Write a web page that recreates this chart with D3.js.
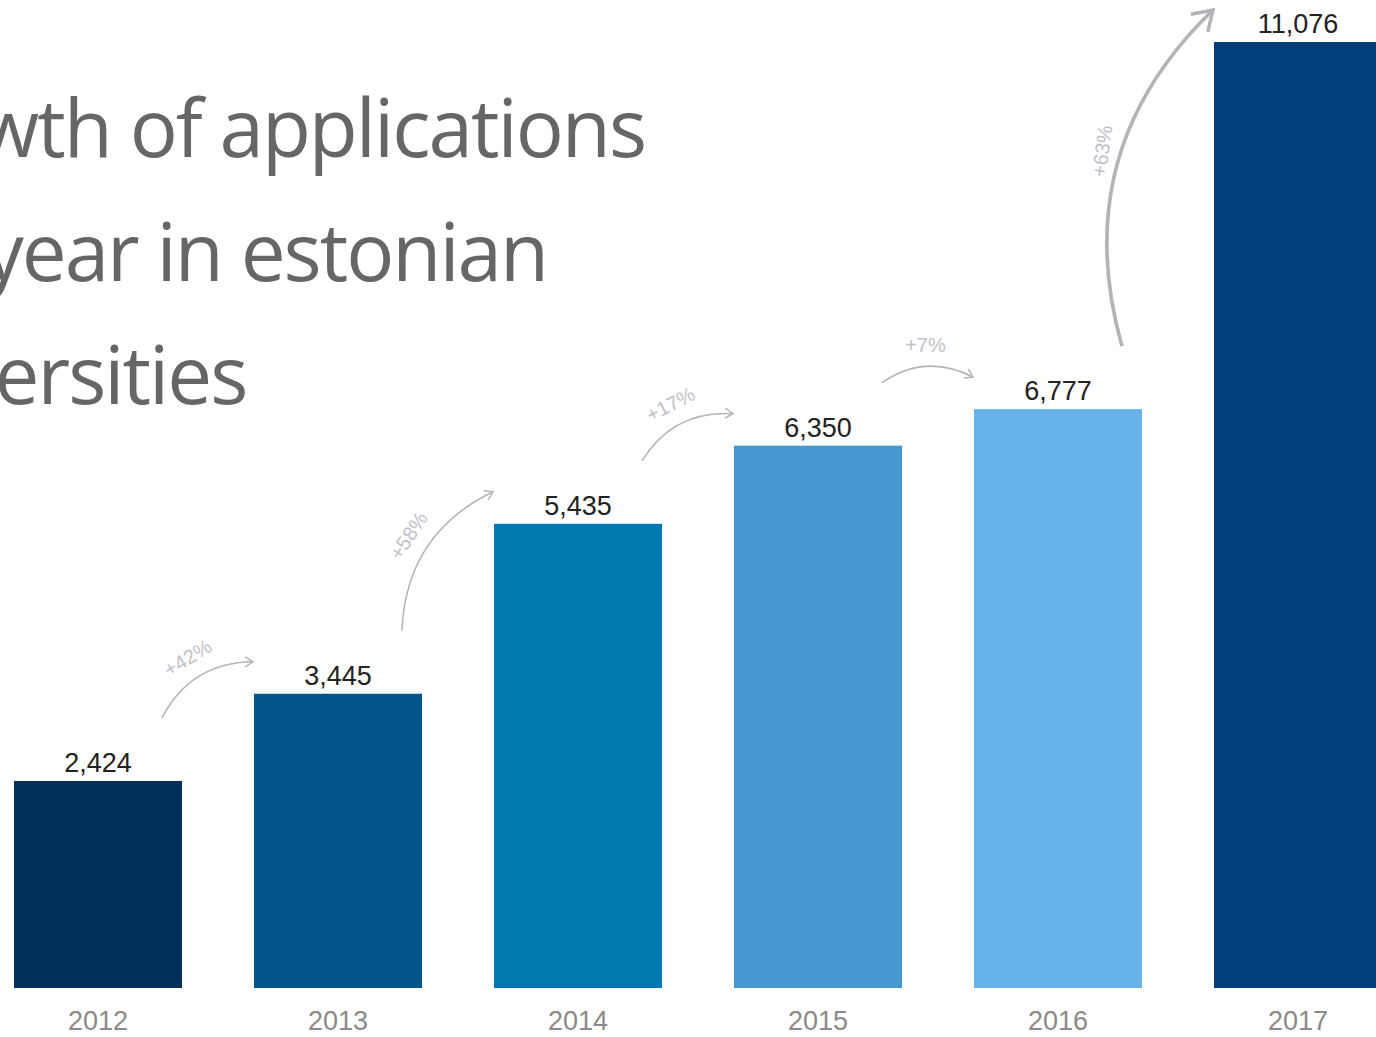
<!DOCTYPE html>
<html>
<head>
<meta charset="utf-8">
<script src="https://cdn.jsdelivr.net/npm/d3@7"></script>
<style>
  body { margin: 0; background: #fff; overflow: hidden; }
</style>
</head>
<body>
<div id="chart"></div>
<script>
// data
var years = ["2012", "2013", "2014", "2015", "2016", "2017"];
var applications = [2424, 3445, 5435, 6350, 6777, 11076];
var valueLabels = ["2,424", "3,445", "5,435", "6,350", "6,777", "11,076"];
var growthLabels = ["+42%", "+58%", "+17%", "+7%", "+63%"];
var barColors = ["#02305a", "#02558a", "#0079b1", "#4598d0", "#66b2e9", "#023e79"];
var titleLines = ["Growth of applications", "per year in estonian", "universities"];

var width = 1376, height = 1037;

var svg = d3.select("#chart")
  .append("svg")
    .attr("width", width)
    .attr("height", height);

// scales
var x = d3.scaleBand()
  .domain(years)
  .range([-22, 1418])
  .paddingInner(0.3)
  .paddingOuter(0.15);

var y = d3.scaleLinear()
  .domain([0, 11076])
  .range([988, 42]);

var data = years.map(function(d, i) {
  return {year: d, value: applications[i], label: valueLabels[i], color: barColors[i]};
});

// title (cut off on the left like the original)
var title = svg.append("g")
  .style("font-family", "'Open Sans', sans-serif")
  .style("font-size", "80px")
  .style("letter-spacing", "-2px")
  .style("fill", "#666");

var t1 = title.append("text").attr("y", 157).text(titleLines[0]);
var len1 = t1.node().getComputedTextLength();
var x0 = 645 - len1;
t1.attr("x", x0);
title.append("text").attr("x", x0).attr("y", 281).text(titleLines[1]);
title.append("text").attr("x", x0).attr("y", 404).text(titleLines[2]);

// bars
svg.selectAll(".bar")
  .data(data)
  .enter()
  .append("rect")
    .attr("class", "bar")
    .attr("x", function(d) { return x(d.year); })
    .attr("y", function(d) { return y(d.value); })
    .attr("width", x.bandwidth())
    .attr("height", function(d) { return y(0) - y(d.value); })
    .style("fill", function(d) { return d.color; });

// value labels
svg.selectAll(".val")
  .data(data)
  .enter()
  .append("text")
    .attr("class", "val")
    .attr("x", function(d) { return x(d.year) + x.bandwidth() / 2; })
    .attr("y", function(d) { return y(d.value) - 9; })
    .attr("text-anchor", "middle")
    .style("font-family", "'Liberation Sans', Arial, sans-serif")
    .style("font-size", "27px")
    .style("fill", "#222")
    .text(function(d) { return d.label; });

// year axis
svg.append("g")
  .attr("transform", "translate(0," + y(0) + ")")
  .call(d3.axisBottom(x).tickSize(0).tickPadding(23))
  .call(function(g) { g.select(".domain").remove(); })
  .selectAll("text")
    .style("font-family", "'Liberation Sans', Arial, sans-serif")
    .style("font-size", "27px")
    .style("fill", "#8a8a8a");

// growth arrows
var defs = svg.append("defs");
defs.append("marker")
  .attr("id", "head")
  .attr("viewBox", "-10 -6 12 12")
  .attr("refX", 0)
  .attr("refY", 0)
  .attr("markerWidth", 9)
  .attr("markerHeight", 9)
  .attr("orient", "auto")
  .append("path")
    .attr("d", "M-7,-4.5 L0,0 L-7,4.5")
    .style("fill", "none")
    .style("stroke", "#b3b3b8")
    .style("stroke-width", 1.3);

var arrows = growthLabels.map(function(lbl, i) {
  var a = data[i], b = data[i + 1];
  var sx = x(a.year) + x.bandwidth() - 20, sy = y(a.value) - 63;
  var ex = x(b.year) - 1, ey = y(b.value) - 32;
  var dx = ex - sx, dy = ey - sy, len = Math.sqrt(dx * dx + dy * dy);
  var nx = dy / len, ny = -dx / len;
  var mx = (sx + ex) / 2, my = (sy + ey) / 2;
  var off = 0.3 * len;
  return {
    label: lbl, sx: sx, sy: sy, ex: ex, ey: ey,
    cx: mx + nx * off, cy: my + ny * off,
    lx: mx + nx * (off / 2 + 20), ly: my + ny * (off / 2 + 20),
    angle: Math.atan2(dy, dx) * 180 / Math.PI,
    big: i === 4
  };
});

svg.selectAll(".arrow")
  .data(arrows)
  .enter()
  .append("path")
    .attr("class", "arrow")
    .attr("d", function(d) {
      return "M" + d.sx + "," + d.sy + " Q" + d.cx + "," + d.cy + " " + d.ex + "," + d.ey;
    })
    .style("fill", "none")
    .style("stroke", "#b3b3b8")
    .style("stroke-width", function(d) { return d.big ? 3.6 : 1.5; })
    .attr("marker-end", "url(#head)");

svg.selectAll(".growth")
  .data(arrows)
  .enter()
  .append("text")
    .attr("class", "growth")
    .attr("transform", function(d) {
      var ang = d.big ? -82 : (Math.abs(d.angle) < 6 ? 0 : d.angle);
      return "translate(" + (d.big ? d.lx + 6 : d.lx) + "," + (d.big ? d.ly - 8 : d.ly) + ") rotate(" + ang + ")";
    })
    .attr("text-anchor", "middle")
    .attr("dominant-baseline", "middle")
    .style("font-family", "'Liberation Sans', Arial, sans-serif")
    .style("font-size", "20px")
    .style("fill", "#bfc0c8")
    .text(function(d) { return d.label; });
</script>
</body>
</html>
